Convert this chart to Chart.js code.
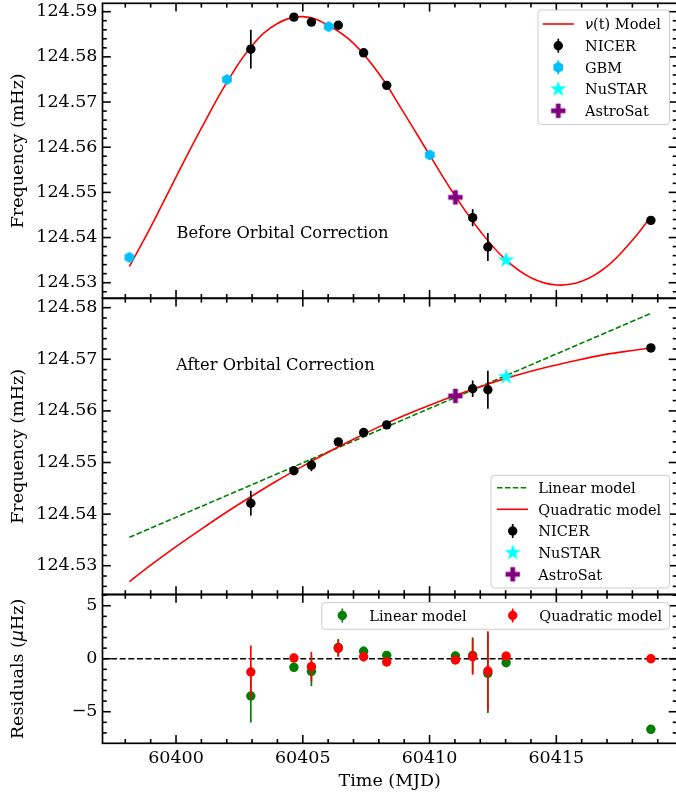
<!DOCTYPE html>
<html>
<head>
<meta charset="utf-8">
<title>Spin frequency evolution</title>
<script src="https://cdn.jsdelivr.net/npm/chart.js@4.4.1/dist/chart.umd.min.js"></script>
<style>
  html, body { margin: 0; padding: 0; background: #ffffff; overflow: hidden; }
  #figure { position: relative; width: 676px; height: 793px; overflow: hidden; background: #ffffff; }
  #figure canvas { position: absolute; left: 0; top: 0; }
</style>
</head>
<body>
<div id="figure">
  <canvas id="panelOrbit" width="680" height="793"></canvas>
  <canvas id="panelCorrected" width="680" height="793"></canvas>
  <canvas id="panelResiduals" width="680" height="793"></canvas>
</div>
<script>
// ---------------- observation epochs (MJD) ----------------
const nicerTime    = [60402.95, 60404.65, 60405.34, 60406.40, 60407.40, 60408.31, 60411.70, 60412.30, 60418.73];
const gbmTime      = [60398.16, 60402.01, 60406.02, 60410.01];
const nustarTime   = [60413.02];
const astrosatTime = [60411.02];

// ---------------- frequency before orbital correction (mHz) ----------------
const nicerFreqRaw    = [124.5817, 124.5888, 124.5877, 124.5870, 124.5809, 124.5737, 124.5444, 124.5379, 124.5438];
const nicerFreqRawErr = [0.0043, 0.0004, 0.0004, 0.0007, 0.0004, 0.0004, 0.0019, 0.0031, 0.0004];
const gbmFreqRaw      = [124.5356, 124.5750, 124.5867, 124.5583];
const nustarFreqRaw   = [124.5350];
const astrosatFreqRaw = [124.5489];

// nu(t) orbital model, sampled daily
const modelTime = [60398.16, 60399, 60400, 60401, 60402, 60403, 60404, 60405, 60406, 60407, 60408,
                   60409, 60410, 60411, 60412, 60413, 60414, 60415, 60416, 60417, 60418, 60418.73];
const orbitModelFreq = [124.5336, 124.5423, 124.5534, 124.5642, 124.5743, 124.5825, 124.5874, 124.5889,
                        124.5870, 124.5830, 124.5763, 124.5675, 124.5583, 124.5493, 124.5414, 124.5351,
                        124.5311, 124.5295, 124.5303, 124.5336, 124.5394, 124.5446];

// ---------------- frequency after orbital correction (mHz) ----------------
const nicerFreqCorr    = [124.5421, 124.5484, 124.5495, 124.5540, 124.5558, 124.5573, 124.5643, 124.5641, 124.5722];
const nicerFreqCorrErr = [0.0024, 0.0004, 0.0012, 0.0005, 0.0004, 0.0004, 0.0016, 0.0037, 0.0004];
const nustarFreqCorr   = [124.5666];
const astrosatFreqCorr = [124.5629];

const linearTime      = [60398.16, 60418.73];
const linearModelFreq = [124.5355, 124.5789];
const quadraticModelFreq = [124.5269, 124.5301, 124.5337, 124.5371, 124.5404, 124.5435, 124.5465, 124.5493,
                            124.5520, 124.5545, 124.5569, 124.5591, 124.5611, 124.5630, 124.5647, 124.5663,
                            124.5677, 124.5689, 124.5700, 124.5710, 124.5717, 124.5722];

// ---------------- residuals (uHz) ----------------
const residualTime      = [60402.95, 60404.65, 60405.34, 60406.40, 60407.40, 60408.31, 60411.02, 60411.70, 60412.30, 60413.02, 60418.73];
const residualLinear    = [-3.52, -0.81, -1.19, 1.07, 0.70, 0.32, 0.26, 0.32, -1.38, -0.38, -6.66];
const residualQuadratic = [-1.25, 0.07, -0.75, 0.98, 0.19, -0.31, -0.12, 0.19, -1.16, 0.25, 0.00];
const residualErr       = [2.50, 0.40, 1.40, 0.80, 0.45, 0.40, 0.40, 1.70, 3.75, 0.40, 0.40];

// ---------------- tick labels ----------------
const timeTicks     = [60400, 60405, 60410, 60415];
const freqTicksTop  = [124.53, 124.54, 124.55, 124.56, 124.57, 124.58, 124.59];
const freqTicksMid  = [124.53, 124.54, 124.55, 124.56, 124.57, 124.58];
const residualTicks = [-5, 0, 5];

// ---------------- styling ----------------
const SERIF = "'DejaVu Serif', 'Liberation Serif', serif";
const MATH = "'DejaVu Sans', sans-serif";
const TICK_PX = 17.5;
const SMALL_PX = 14.5;
const NOTE_PX = 16.3;
const X_RANGE = { min: 60397.10, max: 60419.76 };
const C = { nicer: '#000000', gbm: '#00bfff', nustar: '#00ffff', astrosat: '#800080',
            red: '#ff0000', green: '#008000' };

Chart.defaults.font.family = SERIF;
Chart.defaults.color = '#000000';

function xy(xs, ys) { return xs.map((x, i) => ({ x: x, y: ys[i] })); }

// ---------------- marker painters ----------------
function paintDot(ctx, x, y, color, r) {
  ctx.beginPath(); ctx.arc(x, y, r, 0, Math.PI * 2); ctx.fillStyle = color; ctx.fill();
}
function paintHex(ctx, x, y, color, r) {
  ctx.beginPath();
  for (let i = 0; i < 6; i++) {
    const a = -Math.PI / 2 + i * Math.PI / 3;
    ctx.lineTo(x + r * Math.cos(a), y + r * Math.sin(a));
  }
  ctx.closePath(); ctx.fillStyle = color; ctx.fill();
}
function paintStar(ctx, x, y, color, R) {
  const r = R * 0.382;
  ctx.beginPath();
  for (let i = 0; i < 10; i++) {
    const a = -Math.PI / 2 + i * Math.PI / 5;
    const rr = i % 2 === 0 ? R : r;
    ctx.lineTo(x + rr * Math.cos(a), y + rr * Math.sin(a));
  }
  ctx.closePath(); ctx.fillStyle = color; ctx.fill();
}
function paintPlus(ctx, x, y, color, s) {
  const w = s / 3;
  ctx.fillStyle = color;
  ctx.fillRect(x - s, y - w, 2 * s, 2 * w);
  ctx.fillRect(x - w, y - s, 2 * w, 2 * s);
}
function markerCanvas(paint) {
  const c = document.createElement('canvas');
  c.width = 24; c.height = 24;
  paint(c.getContext('2d'), 12, 12);
  return c;
}
const hexMarker  = markerCanvas((ctx, x, y) => paintHex(ctx, x, y, C.gbm, 5.6));
const starMarker = markerCanvas((ctx, x, y) => paintStar(ctx, x, y, C.nustar, 8.6));
const plusMarker = markerCanvas((ctx, x, y) => paintPlus(ctx, x, y, C.astrosat, 7.2));

// ---------------- shared plugins ----------------
const errorBarPlugin = {
  id: 'errorBars',
  beforeDatasetDraw(chart, args) {
    const ds = chart.data.datasets[args.index];
    if (!ds.yErr) return;
    const ys = chart.scales.y, ctx = chart.ctx;
    ctx.save();
    ctx.strokeStyle = ds.errColor; ctx.lineWidth = 1.7;
    args.meta.data.forEach((pt, i) => {
      const v = ds.data[i].y, e = ds.yErr[i];
      ctx.beginPath();
      ctx.moveTo(pt.x, ys.getPixelForValue(v - e));
      ctx.lineTo(pt.x, ys.getPixelForValue(v + e));
      ctx.stroke();
    });
    ctx.restore();
  }
};

// Closed frame with inward major/minor ticks on all four sides
function framePlugin(yMajor, yMinorStep) {
  return {
    id: 'frameTicks',
    afterDraw(chart) {
      const { ctx, chartArea: a, scales } = chart;
      const xs = scales.x, ys = scales.y;
      const MAJ = 8.3, MIN = 4.3;
      ctx.save();
      ctx.strokeStyle = '#000'; ctx.lineWidth = 1.6; ctx.lineCap = 'butt';
      const seg = (x1, y1, x2, y2) => { ctx.beginPath(); ctx.moveTo(x1, y1); ctx.lineTo(x2, y2); ctx.stroke(); };
      // x ticks
      for (let d = Math.ceil(xs.min); d <= Math.floor(xs.max); d++) {
        const L = timeTicks.includes(d) ? MAJ : MIN;
        const px = xs.getPixelForValue(d);
        seg(px, a.bottom, px, a.bottom - L);
        seg(px, a.top, px, a.top + L);
      }
      // y ticks
      const k0 = Math.ceil(ys.min / yMinorStep - 1e-6), k1 = Math.floor(ys.max / yMinorStep + 1e-6);
      for (let k = k0; k <= k1; k++) {
        const v = k * yMinorStep;
        const major = yMajor.some(m => Math.abs(m - v) < yMinorStep * 0.01);
        const L = major ? MAJ : MIN;
        const py = ys.getPixelForValue(v);
        seg(a.left, py, a.left + L, py);
        seg(a.right, py, a.right - L, py);
      }
      ctx.lineWidth = 1.7;
      ctx.strokeRect(a.left, a.top, a.right - a.left, a.bottom - a.top);
      ctx.restore();
    }
  };
}

function drawRich(ctx, segments, x, y) {
  let cx = x;
  segments.forEach(([text, font]) => { ctx.font = font; ctx.fillText(text, cx, y); cx += ctx.measureText(text).width; });
}
const TXT = SMALL_PX + 'px ' + SERIF;
const TXT_MATH = 'italic ' + SMALL_PX + 'px ' + MATH;

const handles = {
  line(color, dash) {
    return (ctx, x, y) => {
      ctx.save(); ctx.strokeStyle = color; ctx.lineWidth = 1.6; ctx.setLineDash(dash || []);
      ctx.beginPath(); ctx.moveTo(x - 15.5, y); ctx.lineTo(x + 15.5, y); ctx.stroke(); ctx.restore();
    };
  },
  errDot(color) {
    return (ctx, x, y) => {
      ctx.save(); ctx.strokeStyle = color; ctx.lineWidth = 1.7;
      ctx.beginPath(); ctx.moveTo(x, y - 7); ctx.lineTo(x, y + 7); ctx.stroke();
      paintDot(ctx, x, y, color, 4.7); ctx.restore();
    };
  },
  errHex(color) {
    return (ctx, x, y) => {
      ctx.save(); ctx.strokeStyle = color; ctx.lineWidth = 1.7;
      ctx.beginPath(); ctx.moveTo(x, y - 7); ctx.lineTo(x, y + 7); ctx.stroke();
      paintHex(ctx, x, y, color, 5.6); ctx.restore();
    };
  },
  image(img) {
    return (ctx, x, y) => ctx.drawImage(img, x - img.width / 2, y - img.height / 2);
  }
};

function legendPlugin(spec) {
  return {
    id: 'panelLegend',
    afterDraw(chart) {
      const ctx = chart.ctx;
      const [x0, y0, x1, y1] = spec.box;
      ctx.save();
      ctx.beginPath();
      ctx.roundRect(x0, y0, x1 - x0, y1 - y0, 3.5);
      ctx.fillStyle = 'rgba(255,255,255,0.8)'; ctx.fill();
      ctx.strokeStyle = '#cccccc'; ctx.lineWidth = 1; ctx.stroke();
      ctx.fillStyle = '#000'; ctx.textBaseline = 'alphabetic'; ctx.textAlign = 'left';
      spec.items.forEach(it => {
        it.handle(ctx, it.hx, it.y);
        ctx.fillStyle = '#000';
        drawRich(ctx, it.text, it.tx, it.y + 5.3);
      });
      ctx.restore();
    }
  };
}

function notePlugin(text, x, baseline) {
  return {
    id: 'panelNote',
    afterDraw(chart) {
      const ctx = chart.ctx;
      ctx.save(); ctx.fillStyle = '#000'; ctx.textBaseline = 'alphabetic'; ctx.textAlign = 'left';
      ctx.font = NOTE_PX + 'px ' + SERIF;
      ctx.fillText(text, x, baseline);
      ctx.restore();
    }
  };
}

// ---------------- common options ----------------
function panelOptions(cfg) {
  const zeroPad = s => { s.paddingLeft = 0; s.paddingRight = 0; s.paddingTop = 0; s.paddingBottom = 0; };
  return {
    responsive: false, animation: false, devicePixelRatio: 1, events: [],
    layout: { autoPadding: false, padding: cfg.padding },
    plugins: { legend: { display: false }, tooltip: { enabled: false } },
    scales: {
      x: {
        type: 'linear', min: X_RANGE.min, max: X_RANGE.max, display: !!cfg.showTime,
        grid: { display: false, drawTicks: false }, border: { display: false },
        afterBuildTicks: s => { s.ticks = timeTicks.map(v => ({ value: v })); },
        afterFit: s => { s.height = cfg.showTime ? 49.7 : 0; zeroPad(s); },
        ticks: { font: { family: SERIF, size: TICK_PX }, color: '#000', padding: 5, maxRotation: 0,
                 autoSkip: false, callback: v => String(v) },
        title: { display: !!cfg.showTime, text: 'Time (MJD)', color: '#000',
                 font: { family: SERIF, size: TICK_PX }, padding: { top: 0, bottom: 1 } }
      },
      y: {
        type: 'linear', min: cfg.yMin, max: cfg.yMax,
        grid: { display: false, drawTicks: false }, border: { display: false },
        afterBuildTicks: s => { s.ticks = cfg.yTicks.map(v => ({ value: v })); },
        afterFit: s => { s.width = 102.5; zeroPad(s); },
        ticks: { font: { family: SERIF, size: TICK_PX }, color: '#000', padding: 5, autoSkip: false,
                 callback: cfg.yFormat },
        title: { display: !!cfg.yTitle, text: cfg.yTitle || '', color: '#000',
                 font: { family: SERIF, size: TICK_PX }, padding: { top: 7.8, bottom: 0 } }
      }
    }
  };
}
const freqFormat = v => v.toFixed(2);
const resFormat = v => (v < 0 ? '\u2212' + Math.abs(v) : String(v));

// ---------------- panel 1: before orbital correction ----------------
new Chart(document.getElementById('panelOrbit'), {
  type: 'scatter',
  data: {
    datasets: [
      { label: 'NICER', data: xy(nicerTime, nicerFreqRaw), yErr: nicerFreqRawErr, errColor: C.nicer,
        pointStyle: 'circle', pointRadius: 4.7, backgroundColor: C.nicer, borderWidth: 0, order: 4 },
      { label: 'GBM', data: xy(gbmTime, gbmFreqRaw), pointStyle: hexMarker, pointRadius: 6, order: 3 },
      { label: 'NuSTAR', data: xy(nustarTime, nustarFreqRaw), pointStyle: starMarker, pointRadius: 8, order: 2 },
      { label: 'AstroSat', data: xy(astrosatTime, astrosatFreqRaw), pointStyle: plusMarker, pointRadius: 8, order: 1 },
      { label: '\u03bd(t) Model', data: xy(modelTime, orbitModelFreq), showLine: true, pointRadius: 0,
        borderColor: C.red, borderWidth: 1.6, tension: 0.4, order: 10 }
    ]
  },
  options: panelOptions({ padding: { top: 3.3, bottom: 494.7, left: 0, right: 3 },
                          yMin: 124.52655, yMax: 124.59186, yTicks: freqTicksTop, yFormat: freqFormat,
                          yTitle: 'Frequency (mHz)' }),
  plugins: [errorBarPlugin, framePlugin(freqTicksTop, 0.002),
            notePlugin('Before Orbital Correction', 176.5, 237.5),
            legendPlugin({ box: [538, 10, 669.5, 124.5], items: [
              { handle: handles.line(C.red), hx: 558.3, y: 24, tx: 585,
                text: [['\u03bd', TXT_MATH], ['(t) Model', TXT]] },
              { handle: handles.errDot(C.nicer), hx: 558.3, y: 45.7, tx: 585, text: [['NICER', TXT]] },
              { handle: handles.errHex(C.gbm), hx: 558.3, y: 67.4, tx: 585, text: [['GBM', TXT]] },
              { handle: handles.image(starMarker), hx: 558.3, y: 89.1, tx: 585, text: [['NuSTAR', TXT]] },
              { handle: handles.image(plusMarker), hx: 558.3, y: 110.8, tx: 585, text: [['AstroSat', TXT]] }
            ] })]
});

// ---------------- panel 2: after orbital correction ----------------
new Chart(document.getElementById('panelCorrected'), {
  type: 'scatter',
  data: {
    datasets: [
      { label: 'NICER', data: xy(nicerTime, nicerFreqCorr), yErr: nicerFreqCorrErr, errColor: C.nicer,
        pointStyle: 'circle', pointRadius: 4.7, backgroundColor: C.nicer, borderWidth: 0, order: 3 },
      { label: 'NuSTAR', data: xy(nustarTime, nustarFreqCorr), pointStyle: starMarker, pointRadius: 8, order: 1 },
      { label: 'AstroSat', data: xy(astrosatTime, astrosatFreqCorr), pointStyle: plusMarker, pointRadius: 8, order: 2 },
      { label: 'Quadratic model', data: xy(modelTime, quadraticModelFreq), showLine: true, pointRadius: 0,
        borderColor: C.red, borderWidth: 1.6, cubicInterpolationMode: 'monotone', order: 10 },
      { label: 'Linear model', data: xy(linearTime, linearModelFreq), showLine: true, pointRadius: 0,
        borderColor: C.green, borderWidth: 1.6, borderDash: [5.5, 2.4], order: 11 }
    ]
  },
  options: panelOptions({ padding: { top: 298.3, bottom: 198.5, left: 0, right: 3 },
                          yMin: 124.52442, yMax: 124.58182, yTicks: freqTicksMid, yFormat: freqFormat,
                          yTitle: 'Frequency (mHz)' }),
  plugins: [errorBarPlugin, framePlugin(freqTicksMid, 0.002),
            notePlugin('After Orbital Correction', 176, 370),
            legendPlugin({ box: [491, 475.3, 669.5, 588], items: [
              { handle: handles.line(C.green, [5.5, 2.4]), hx: 512.5, y: 487.7, tx: 538.3, text: [['Linear model', TXT]] },
              { handle: handles.line(C.red), hx: 512.5, y: 509.3, tx: 538.3, text: [['Quadratic model', TXT]] },
              { handle: handles.errDot(C.nicer), hx: 512.7, y: 531, tx: 538.3, text: [['NICER', TXT]] },
              { handle: handles.image(starMarker), hx: 512.7, y: 552.7, tx: 538.3, text: [['NuSTAR', TXT]] },
              { handle: handles.image(plusMarker), hx: 512.7, y: 574.3, tx: 538.3, text: [['AstroSat', TXT]] }
            ] })]
});

// ---------------- panel 3: residuals ----------------
const residualTitlePlugin = {
  id: 'residualTitle',
  afterDraw(chart) {
    const ctx = chart.ctx, a = chart.chartArea;
    const big = TICK_PX + 'px ' + SERIF, bigMath = 'italic ' + TICK_PX + 'px ' + MATH;
    const parts = [['Residuals (', big], ['\u03bc', bigMath], ['Hz)', big]];
    let w = 0;
    parts.forEach(([t, f]) => { ctx.font = f; w += ctx.measureText(t).width; });
    ctx.save();
    ctx.translate(18.3, (a.top + a.bottom) / 2);
    ctx.rotate(-Math.PI / 2);
    ctx.fillStyle = '#000'; ctx.textBaseline = 'middle'; ctx.textAlign = 'left';
    drawRich(ctx, parts, -w / 2, 0);
    ctx.restore();
  }
};

new Chart(document.getElementById('panelResiduals'), {
  type: 'scatter',
  data: {
    datasets: [
      { label: 'Quadratic model', data: xy(residualTime, residualQuadratic), yErr: residualErr, errColor: C.red,
        pointStyle: 'circle', pointRadius: 4.7, backgroundColor: C.red, borderWidth: 0, order: 1 },
      { label: 'Linear model', data: xy(residualTime, residualLinear), yErr: residualErr, errColor: C.green,
        pointStyle: 'circle', pointRadius: 4.7, backgroundColor: C.green, borderWidth: 0, order: 2 },
      { label: 'zero', data: [{ x: X_RANGE.min, y: 0 }, { x: X_RANGE.max, y: 0 }], showLine: true, pointRadius: 0,
        borderColor: '#000', borderWidth: 1.6, borderDash: [6, 2.6], order: 10 }
    ]
  },
  options: panelOptions({ padding: { top: 594.5, bottom: 0, left: 0, right: 3 }, showTime: true,
                          yMin: -7.98, yMax: 6.06, yTicks: residualTicks, yFormat: resFormat }),
  plugins: [errorBarPlugin, framePlugin(residualTicks, 1), residualTitlePlugin,
            legendPlugin({ box: [321.7, 602.7, 669.5, 629.3], items: [
              { handle: handles.errDot(C.green), hx: 342.3, y: 615.5, tx: 369.3, text: [['Linear model', TXT]] },
              { handle: handles.errDot(C.red), hx: 512.7, y: 615.5, tx: 539.3, text: [['Quadratic model', TXT]] }
            ] })]
});
</script>
</body>
</html>
